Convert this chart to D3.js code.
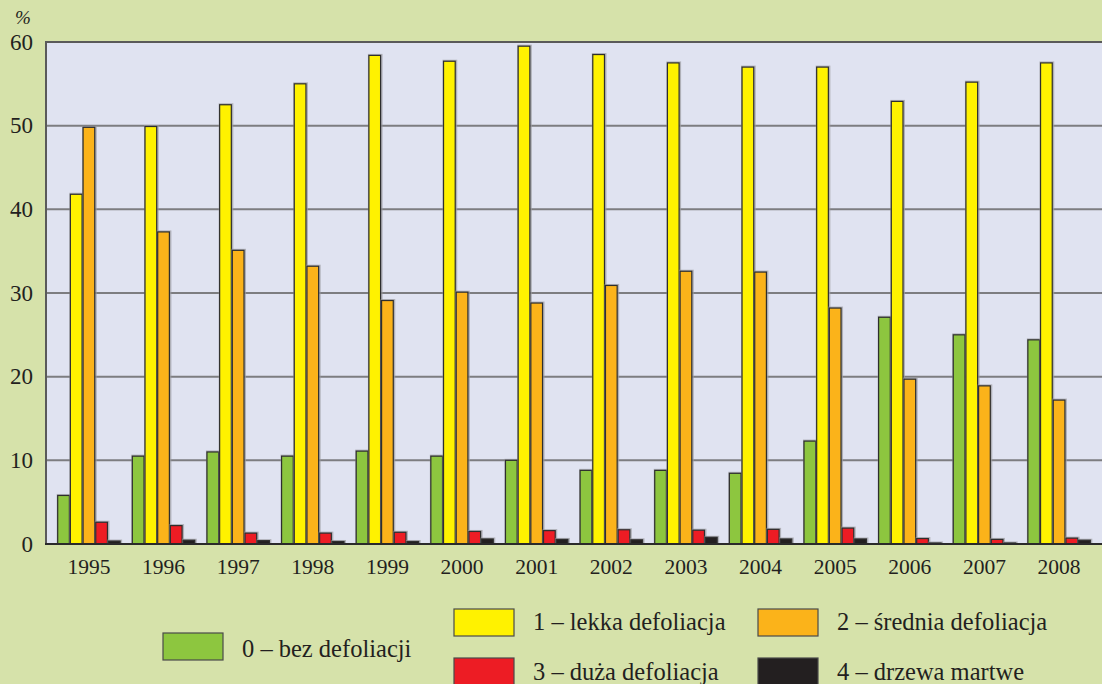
<!DOCTYPE html>
<html>
<head>
<meta charset="utf-8">
<script src="https://cdn.jsdelivr.net/npm/d3@7"></script>
<style>
  body { margin: 0; background: #d6e2aa; }
  svg { display: block; }
</style>
</head>
<body>
<div id="chart"></div>
<script>
// data
const years = ["1995","1996","1997","1998","1999","2000","2001","2002","2003","2004","2005","2006","2007","2008"];
const klasa0 = [5.8, 10.5, 11.0, 10.5, 11.1, 10.5, 10.0, 8.8, 8.8, 8.45, 12.3, 27.1, 25.0, 24.4];
const klasa1 = [41.8, 49.9, 52.5, 55.0, 58.4, 57.7, 59.5, 58.5, 57.5, 57.0, 57.0, 52.9, 55.2, 57.5];
const klasa2 = [49.8, 37.3, 35.1, 33.2, 29.1, 30.1, 28.8, 30.9, 32.6, 32.5, 28.2, 19.7, 18.9, 17.2];
const klasa3 = [2.6, 2.2, 1.3, 1.3, 1.4, 1.5, 1.6, 1.7, 1.65, 1.75, 1.9, 0.65, 0.55, 0.7];
const klasa4 = [0.35, 0.45, 0.4, 0.3, 0.3, 0.6, 0.55, 0.5, 0.8, 0.6, 0.6, 0.12, 0.12, 0.45];
const yTicks = [0, 10, 20, 30, 40, 50, 60];

const seriesNames = ["0 – bez defoliacji", "1 – lekka defoliacja", "2 – średnia defoliacja", "3 – duża defoliacja", "4 – drzewa martwe"];
const seriesColors = ["#8dc63f", "#fff200", "#fbb31a", "#ed1c24", "#231f20"];
const seriesValues = [klasa0, klasa1, klasa2, klasa3, klasa4];

const width = 1102, height = 684;
const plot = {left: 46, top: 42, right: 1102, bottom: 544};
const serif = '"Liberation Serif"';

const svg = d3.select("#chart").append("svg")
    .attr("width", width)
    .attr("height", height);

svg.append("rect").attr("width", width).attr("height", height).attr("fill", "#d6e2aa");

const x = d3.scaleBand()
    .domain(years)
    .range([plot.left, plot.right])
    .paddingInner(0.15)
    .paddingOuter(0.15);

const xs = d3.scaleBand()
    .domain(d3.range(seriesNames.length))
    .range([0, x.bandwidth()]);

const y = d3.scaleLinear()
    .domain([0, 60])
    .range([plot.bottom, plot.top]);

// plot area
svg.append("rect")
    .attr("x", plot.left).attr("y", plot.top)
    .attr("width", plot.right - plot.left).attr("height", plot.bottom - plot.top)
    .attr("fill", "#e0e3f1");

// grid lines
svg.append("g")
    .selectAll("line")
    .data(yTicks.filter(d => d > 0 && d < 60))
    .enter().append("line")
    .attr("x1", plot.left).attr("x2", plot.right)
    .attr("y1", d => y(d)).attr("y2", d => y(d))
    .style("stroke", "#7d7d80")
    .style("stroke-width", 2);

// border top + left
svg.append("path")
    .attr("d", `M${plot.left},${plot.bottom}V${plot.top}H${plot.right}`)
    .attr("fill", "none")
    .style("stroke", "#5a5a5a")
    .style("stroke-width", 2);

// bars
const groups = svg.append("g")
    .selectAll("g")
    .data(years)
    .enter().append("g")
    .attr("transform", d => `translate(${x(d)},0)`);

const bars = groups.selectAll("g")
    .data((yr, i) => seriesValues.map((vals, s) => ({s: s, v: vals[i]})))
    .enter().append("g");

// soft grey shadow around bars
bars.append("rect")
    .attr("x", d => xs(d.s) - 0.5)
    .attr("y", d => y(d.v) - 1.5)
    .attr("width", xs.bandwidth() + 2)
    .attr("height", d => y(0) - y(d.v) + 1.5)
    .attr("fill", "#9a9aa0")
    .attr("opacity", 0.7);

bars.append("rect")
    .attr("x", d => xs(d.s) + 0.5)
    .attr("y", d => y(d.v))
    .attr("width", xs.bandwidth() - 1)
    .attr("height", d => y(0) - y(d.v))
    .attr("fill", d => seriesColors[d.s])
    .style("stroke", "#2e2e2e")
    .style("stroke-width", 1.2);

// bottom axis line
svg.append("line")
    .attr("x1", plot.left - 1).attr("x2", plot.right)
    .attr("y1", plot.bottom).attr("y2", plot.bottom)
    .style("stroke", "#2a2a2a")
    .style("stroke-width", 2);

// y labels
svg.append("g")
    .selectAll("text")
    .data(yTicks)
    .enter().append("text")
    .attr("x", 33)
    .attr("y", d => y(d) + 7.5)
    .attr("text-anchor", "end")
    .style("font-family", serif)
    .style("font-size", "23px")
    .attr("fill", "#231f20")
    .text(d => d);

svg.append("text")
    .attr("x", 23).attr("y", 24)
    .attr("text-anchor", "middle")
    .style("font-family", serif)
    .style("font-size", "19px")
    .style("font-style", "italic")
    .attr("fill", "#231f20")
    .text("%");

// x labels
svg.append("g")
    .selectAll("text")
    .data(years)
    .enter().append("text")
    .attr("x", d => x(d) + x.bandwidth() / 2)
    .attr("y", 574)
    .attr("text-anchor", "middle")
    .style("font-family", serif)
    .style("font-size", "21.5px")
    .attr("fill", "#231f20")
    .text(d => d);

// legend
const legendPos = [
    {x: 163, y: 633, dy: 23.5},
    {x: 454, y: 609, dy: 20.5},
    {x: 758, y: 609, dy: 20.5},
    {x: 454, y: 658, dy: 21.5},
    {x: 758, y: 658, dy: 21.5}
];

const legend = svg.append("g")
    .selectAll("g")
    .data(seriesNames)
    .enter().append("g")
    .attr("transform", (d, i) => `translate(${legendPos[i].x},${legendPos[i].y})`);

legend.append("rect")
    .attr("width", 60).attr("height", 27)
    .attr("fill", (d, i) => seriesColors[i])
    .style("stroke", "#4a4a4a")
    .style("stroke-width", 1.2);

legend.append("text")
    .attr("x", 79)
    .attr("y", (d, i) => legendPos[i].dy)
    .style("font-family", serif)
    .style("font-size", "24.5px")
    .attr("fill", "#231f20")
    .text(d => d);
</script>
</body>
</html>
